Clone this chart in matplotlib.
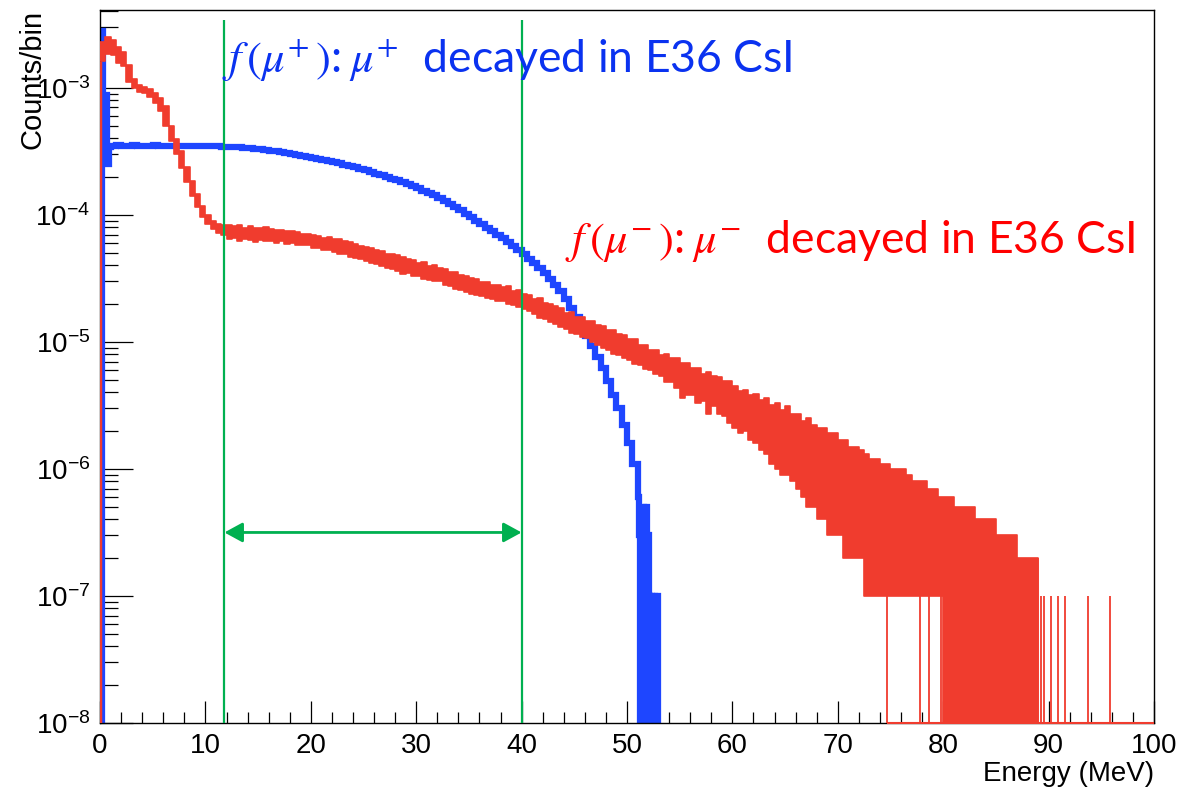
import numpy as np
import matplotlib.pyplot as plt
from matplotlib.ticker import MultipleLocator, LogLocator, NullFormatter

plt.rcParams['font.family'] = ['Liberation Sans', 'DejaVu Sans']
plt.rcParams['mathtext.fontset'] = 'stix'

NORM = 1e-7     # one entry in Counts/bin
FLOOR = 1e-9    # empty bins are drawn down to here (below the frame)

# mu+ decays (blue): a few narrow bins at the start, then 0.5 MeV bins 1.0-51.0,
# then 0.1 MeV bins 51.0-53.0 where the spectrum ends
blue_first_edges = [0.15, 0.25, 0.55, 0.65, 0.85, 1.0]
blue_first_counts = [28000, 2600, 8800, 2500, 3400]
blue_counts = [
    3480, 3530, 3510, 3500, 3520, 3490, 3510, 3500, 3530, 3490,
    3500, 3510, 3480, 3500, 3490, 3510, 3470, 3490, 3480, 3460,
    3470, 3440, 3430, 3400, 3390, 3360, 3330, 3290, 3270, 3230,
    3200, 3160, 3110, 3060, 3010, 2950, 2900, 2850, 2800, 2750,
    2700, 2660, 2600, 2550, 2490, 2430, 2370, 2310, 2240, 2180,
    2110, 2060, 2000, 1930, 1870, 1810, 1750, 1680, 1620, 1550,
    1490, 1420, 1355, 1285, 1215, 1150, 1085, 1020, 955, 897,
    841, 790, 741, 697, 653, 610, 569, 528, 490, 452,
    417, 380, 347, 313, 282, 251, 219, 186, 158, 133,
    112, 92, 76, 62, 49, 38, 30, 22, 16, 11,
]
blue_tail_counts = [6, 3, 0, 4, 1, 5, 0, 2, 5, 0, 3, 1, 0, 1, 0, 1, 1, 0, 1, 0]

# mu- decays (red): lower / upper edge of the noisy band in 0.5 MeV columns, 0-89 MeV
red_lo = [
    16200, 18600, 18200, 15800, 14800, 11200, 10000, 9330, 9120, 8510,
    7590, 6610, 5010, 3800, 3020, 2340, 1820, 1410, 1150, 955,
    851, 776, 724, 692,
    646, 661, 625, 646, 631, 610, 631, 617, 617, 598, 617, 589, 603, 580, 575, 578,
    550, 552, 530, 525, 513, 496, 490, 468, 457, 447, 430, 417, 407, 396, 380, 372,
    363, 345, 347, 328, 331, 312, 309, 300, 302, 280, 275, 260, 257, 249, 240, 232,
    229, 221, 219, 210, 209, 200, 195, 189, 182, 176, 166, 155, 151, 143, 138, 130,
    126, 118, 115, 110, 107, 100, 95, 89, 87, 81, 79, 74, 72, 67, 66, 61,
    60, 56, 54, 48, 48, 43, 36, 38, 38, 33, 34, 27, 31, 27, 26, 23,
    21, 19, 20, 17, 16, 14, 13, 11, 10, 9, 9, 8, 7, 6, 5, 5,
    4, 4, 3, 3, 3, 2, 2, 2, 2, 1, 1, 1,
    1, 1, 1, 1, 1, 1, 1, 1, 1, 1, 1, 1,
    0, 0, 0, 0, 0, 0, 0, 0, 0, 0, 0, 0, 0, 0, 0, 0, 0, 0,
]
red_hi = [
    22900, 25100, 24000, 20900, 19100, 15100, 11750, 10470, 10230, 9770,
    9120, 8320, 7240, 5010, 3980, 3160, 2400, 1860, 1450, 1175,
    1000, 891, 851, 832,
    832, 813, 830, 794, 820, 794, 790, 800, 776, 765, 759, 750, 741, 735, 708, 712,
    692, 680, 661, 668, 646, 640, 617, 608, 589, 570, 562, 545, 525, 518, 490, 490,
    479, 462, 447, 445, 417, 425, 398, 404, 380, 376, 355, 358, 339, 330, 316, 310,
    295, 295, 282, 280, 269, 275, 251, 258, 240, 233, 219, 220, 204, 200, 191, 186,
    170, 172, 158, 156, 145, 147, 135, 133, 123, 125, 115, 114, 105, 106, 95, 94,
    87, 86, 79, 81, 74, 74, 68, 68, 62, 62, 56, 58, 54, 53, 49, 49,
    45, 41, 42, 38, 39, 35, 36, 32, 33, 29, 31, 27, 27, 24, 25, 22,
    21, 21, 19, 19, 17, 17, 15, 15, 14, 13, 12, 12,
    11, 11, 10, 10, 10, 9, 8, 8, 8, 7, 7, 6,
    6, 6, 5, 5, 5, 5, 4, 4, 4, 4, 3, 3, 3, 3, 2, 2, 2, 2,
]
# single narrow bins in the far tail (empty bins next to 1-entry bins)
red_spike_x = [74.7, 77.8, 78.7, 79.8, 89.3, 89.6, 90.2, 90.9, 91.6, 93.7, 95.8]
red_spike_counts = [1, 1, 1, 1, 1, 1, 1, 1, 1, 1, 1]
red_empty_from = 74.7   # from here on empty bins lie on the frame

cut_lo, cut_hi = 11.8, 40.0

BLUE = '#1E46FF'
RED = '#F03C2E'
GREEN = '#00B050'

fig = plt.figure(figsize=(11.81, 7.91), dpi=100)
ax = fig.add_axes([0.0847, 0.086, 0.8924, 0.9014])
ax.set_yscale('log')
ax.set_xlim(0, 100)
ax.set_ylim(1e-8, 4.1e-3)

# blue histogram
b_edges = np.concatenate([blue_first_edges,
                          1.0 + 0.5 * np.arange(1, len(blue_counts) + 1),
                          51.0 + 0.1 * np.arange(1, len(blue_tail_counts) + 1)])
b_vals = np.concatenate([blue_first_counts, blue_counts, blue_tail_counts]) * NORM
ax.stairs(np.maximum(b_vals, FLOOR), b_edges, baseline=FLOOR, color=BLUE, lw=4.5, zorder=2)

# red band
r_edges = 0.5 * np.arange(len(red_lo) + 1)
lo = np.maximum(np.array(red_lo) * NORM, FLOOR)
hi = np.array(red_hi) * NORM
ax.fill_between(r_edges, np.append(lo, lo[-1]), np.append(hi, hi[-1]), step='post',
                color=RED, lw=1.2, zorder=3)
ax.vlines(0.0, FLOOR, lo[0], color=RED, lw=2.5, zorder=3)
ax.vlines(r_edges[-1], FLOOR, hi[-1], color=RED, lw=1.2, zorder=3)
ax.vlines(red_spike_x, FLOOR, np.array(red_spike_counts) * NORM, color=RED, lw=1.3, zorder=3)
ax.hlines(1e-8, red_empty_from, 100, color=RED, lw=1.5, zorder=3, clip_on=False)

# selection window
ax.vlines([cut_lo, cut_hi], 1e-8, 3.43e-3, color=GREEN, lw=1.6, zorder=4)
ax.annotate('', xy=(cut_lo, 3.16e-7), xytext=(cut_hi, 3.16e-7),
            arrowprops=dict(arrowstyle='<|-|>,head_length=0.55,head_width=0.3',
                            color=GREEN, lw=2.0, shrinkA=0, shrinkB=0,
                            mutation_scale=20), zorder=4)

ax.text(11.6, 1.32e-3, r'$f\,(\mu^{+}\,)$:$\;\mu^{+}$  decayed in E36 CsI',
        color='#0A32F0', fontsize=32, family=['Lato', 'DejaVu Sans'], va='baseline', zorder=5)
ax.text(44.1, 5.0e-5, r'$f\,(\mu^{-}\,)$:$\;\mu^{-}$  decayed in E36 CsI',
        color='#FF0000', fontsize=32, family=['Lato', 'DejaVu Sans'], va='baseline', zorder=5)

# ROOT-like frame and ticks
for s in ax.spines.values():
    s.set_linewidth(1.0)
ax.xaxis.set_major_locator(MultipleLocator(10))
ax.xaxis.set_minor_locator(MultipleLocator(2))
ax.yaxis.set_major_locator(LogLocator(base=10, numticks=20))
ax.yaxis.set_minor_locator(LogLocator(base=10, subs=np.arange(2, 10), numticks=20))
ax.yaxis.set_minor_formatter(NullFormatter())
ax.tick_params(axis='both', which='both', direction='in', top=False, right=False,
               labelsize=20, width=0.9)
ax.tick_params(axis='x', which='major', length=15.8, pad=7)
ax.tick_params(axis='x', which='minor', length=7.9)
ax.tick_params(axis='y', which='major', length=23.8, pad=7)
ax.tick_params(axis='y', which='minor', length=13)

ax.set_xlabel('Energy (MeV)', fontsize=20, loc='right', labelpad=2)
ax.set_ylabel('Counts/bin', fontsize=21, loc='top', labelpad=-8)

fig.savefig('out.png', dpi=100)
